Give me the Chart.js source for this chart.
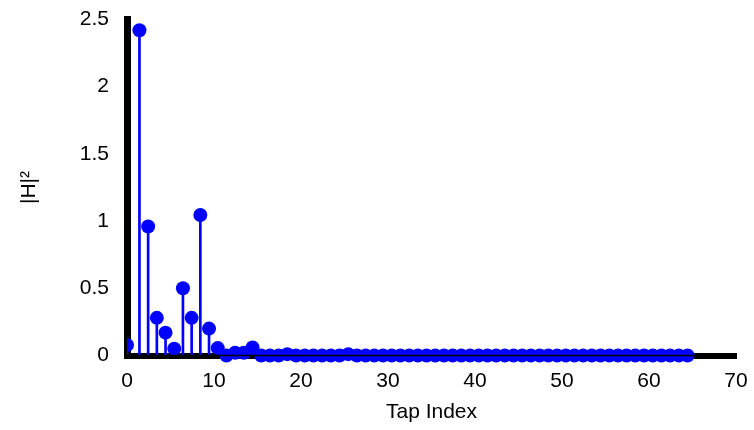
<!DOCTYPE html>
<html>
<head>
<meta charset="utf-8">
<script src="https://cdn.jsdelivr.net/npm/chart.js@4.4.1/dist/chart.umd.min.js"></script>
<style>
  html, body { margin: 0; padding: 0; background: #fff; }
  #wrap { width: 754px; height: 430px; }
</style>
</head>
<body>
<div id="wrap"><canvas id="stemChart"></canvas></div>
<script>
// tap positions as they sit on the x axis
var taps = [0, 1.43, 2.43, 3.43, 4.43, 5.43, 6.43, 7.43, 8.43, 9.43, 10.43,
  11.43, 12.43, 13.43, 14.43, 15.43, 16.43, 17.43, 18.43, 19.43, 20.43,
  21.43, 22.43, 23.43, 24.43, 25.43, 26.43, 27.43, 28.43, 29.43, 30.43,
  31.43, 32.43, 33.43, 34.43, 35.43, 36.43, 37.43, 38.43, 39.43, 40.43,
  41.43, 42.43, 43.43, 44.43, 45.43, 46.43, 47.43, 48.43, 49.43, 50.43,
  51.43, 52.43, 53.43, 54.43, 55.43, 56.43, 57.43, 58.43, 59.43, 60.43,
  61.43, 62.43, 63.43, 64.43];
// |H|^2 per tap
var power = [0.078, 2.42, 0.96, 0.28, 0.17, 0.05, 0.5, 0.28, 1.045, 0.2, 0.055,
  0, 0.02, 0.02, 0.06, 0, 0, 0, 0.01, 0, 0,
  0, 0, 0, 0, 0.01, 0, 0, 0, 0, 0,
  0, 0, 0, 0, 0, 0, 0, 0, 0, 0,
  0, 0, 0, 0, 0, 0, 0, 0, 0, 0,
  0, 0, 0, 0, 0, 0, 0, 0, 0, 0,
  0, 0, 0, 0];
var xTicks = [0, 10, 20, 30, 40, 50, 60, 70];
var yTicks = [0, 0.5, 1, 1.5, 2, 2.5];

var pts = taps.map(function (t, i) { return {x: t, y: power[i]}; });

// thin zero line drawn over the markers
var baseline = {
  id: 'baseline',
  afterDatasetsDraw: function (chart) {
    var ctx = chart.ctx, a = chart.chartArea;
    var y = chart.scales.y.getPixelForValue(0);
    ctx.save();
    ctx.strokeStyle = '#000';
    ctx.lineWidth = 1.5;
    ctx.beginPath();
    ctx.moveTo(a.left, y);
    ctx.lineTo(a.right - 2, y);
    ctx.stroke();
    ctx.restore();
  }
};

var font = {family: '"Liberation Sans", Arial, sans-serif', size: 21};

new Chart(document.getElementById('stemChart').getContext('2d'), {
  type: 'bar',
  data: {
    datasets: [{
      type: 'scatter',
      data: pts,
      backgroundColor: '#0000ff',
      borderColor: '#0000ff',
      pointRadius: 7,
      pointHoverRadius: 7,
      borderWidth: 0,
      clip: {left: 0, top: false, right: false, bottom: false},
      order: 1
    }, {
      type: 'bar',
      data: pts,
      backgroundColor: '#0000ff',
      barThickness: 2,
      order: 2
    }]
  },
  options: {
    responsive: true,
    maintainAspectRatio: false,
    animation: false,
    layout: {padding: {top: 19.5, right: 18, left: 0, bottom: 0}},
    plugins: {legend: {display: false}, tooltip: {enabled: false}},
    scales: {
      x: {
        type: 'linear',
        offset: false,
        min: 0,
        max: 70,
        afterBuildTicks: function (s) { s.ticks = xTicks.map(function (v) { return {value: v}; }); },
        afterFit: function (s) { s.height = 74.5; s.paddingLeft = 0; s.paddingRight = 0; },
        grid: {display: false, drawTicks: false, offset: false},
        border: {display: true, color: '#000', width: 6},
        ticks: {color: '#000', font: font, padding: 13, maxRotation: 0,
          callback: function (v) { return String(v); }},
        title: {display: true, text: 'Tap Index', color: '#000', font: font, padding: {top: 0, bottom: 5}}
      },
      y: {
        min: 0,
        max: 2.5,
        afterBuildTicks: function (s) { s.ticks = yTicks.map(function (v) { return {value: v}; }); },
        afterFit: function (s) { s.width = 127; s.paddingTop = 0; s.paddingBottom = 0; },
        grid: {display: false, drawTicks: false},
        border: {display: true, color: '#000', width: 7},
        ticks: {color: '#000', font: font, padding: 18,
          callback: function (v) { return String(v); }},
        title: {display: true, text: '|H|²', color: '#000', font: font, padding: {top: 17, bottom: 0}}
      }
    }
  },
  plugins: [baseline]
});
</script>
</body>
</html>
